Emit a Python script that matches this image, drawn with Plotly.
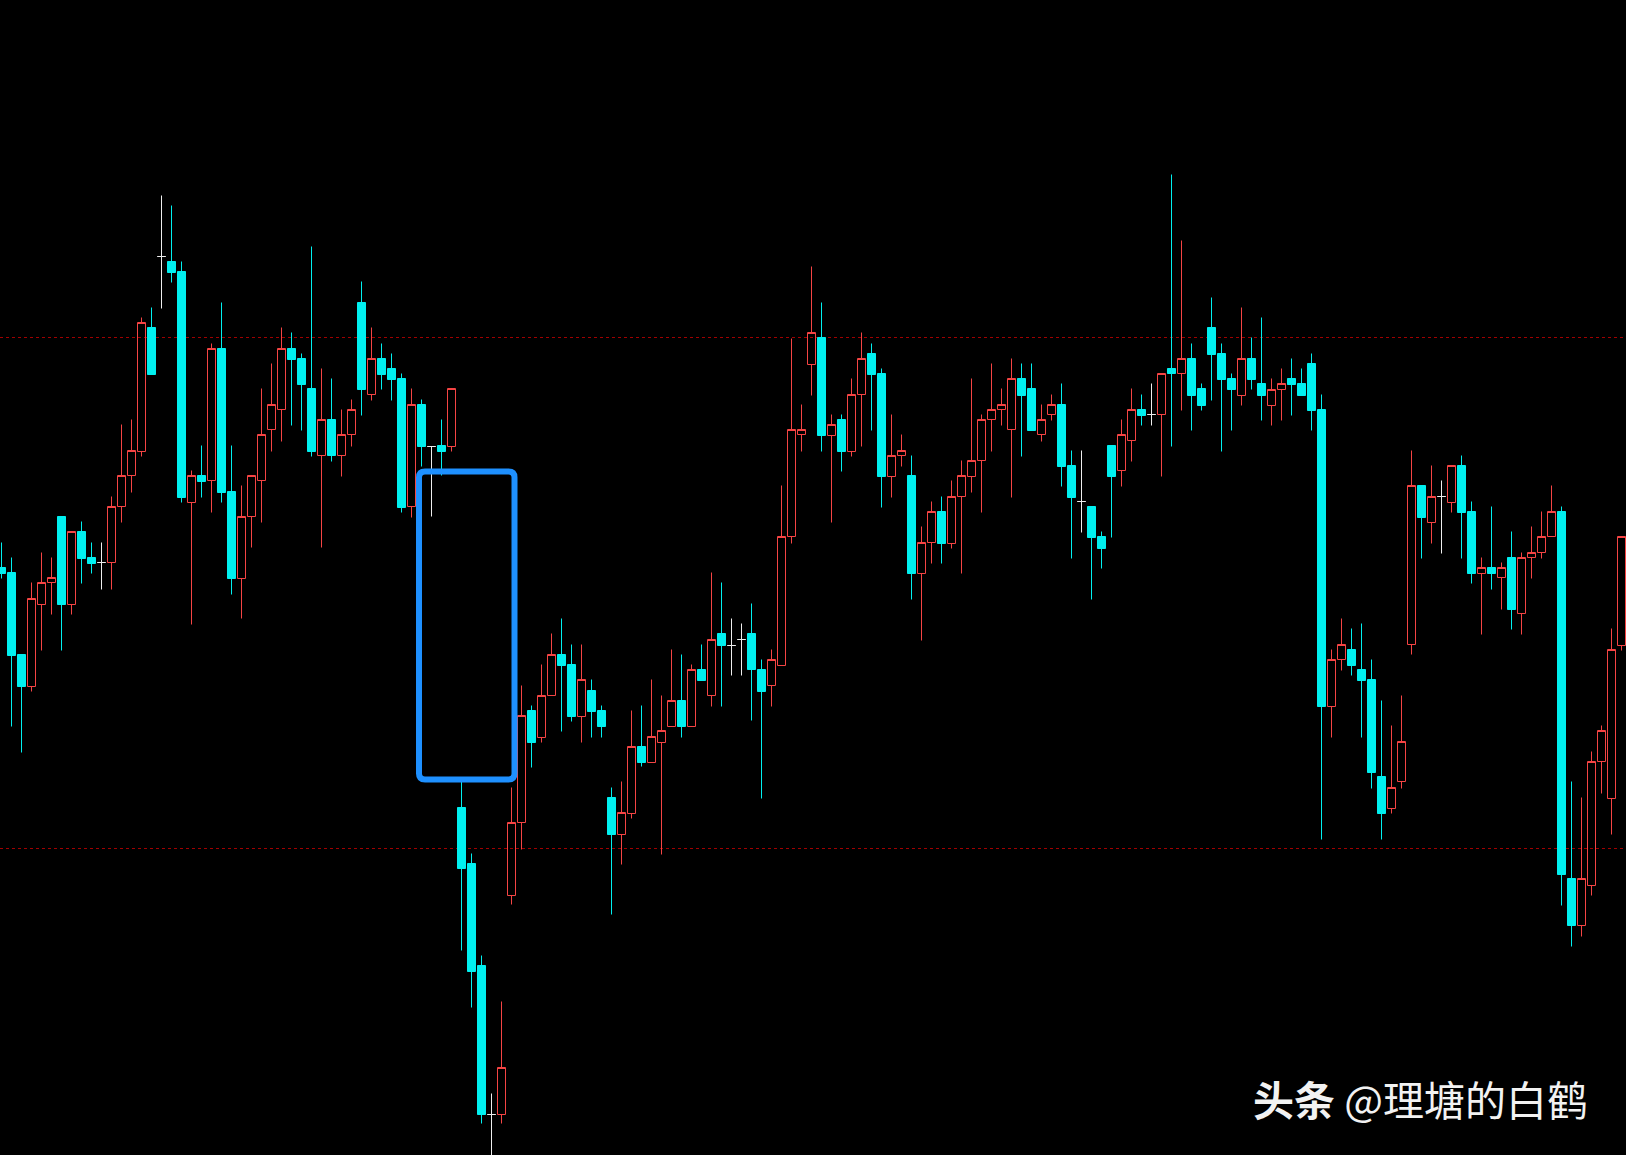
import plotly.graph_objects as go

# candle index (one bar per period)
idx = list(range(163))

open_ = [632,627,545,513,595,617,683,595,668,642,637,637,693,724,748,872,943,938,928,697,
         724,719,851,708,621,683,719,770,790,851,841,811,744,780,744,765,897,805,841,831,
         821,693,795,753,754,753,392,336,234,85,85,304,377,489,462,504,545,535,483,509,
         489,402,365,386,453,437,457,473,499,473,530,504,566,554,560,566,530,514,534,663,
         765,835,862,764,780,748,805,846,826,723,744,724,626,657,688,656,703,723,739,780,
         790,770,821,811,765,785,795,734,698,693,663,754,729,759,790,785,785,831,826,841,
         811,872,846,821,804,841,816,794,810,821,816,836,790,493,540,550,530,520,423,391,
         418,555,714,677,703,697,734,688,626,632,622,642,586,642,647,663,688,321,274,314,
         438,401,554]
high_ = [657,642,545,617,647,642,683,668,678,657,657,703,775,780,882,892,1004,994,938,729,
         754,856,897,754,714,724,811,836,872,867,846,953,831,821,790,800,918,872,856,846,
         826,811,800,753,780,811,419,346,244,106,198,412,514,494,535,566,581,555,555,520,
         494,412,418,489,494,520,504,550,545,535,555,627,617,581,576,596,540,550,714,861,
         795,933,897,785,785,821,867,856,831,785,765,744,673,698,703,719,739,821,785,836,
         811,841,836,836,795,805,816,749,749,693,668,754,780,811,805,816,826,1025,959,856,
         816,902,856,826,892,862,882,821,831,841,831,846,805,550,581,571,576,540,499,474,
         504,749,714,734,719,734,744,698,642,693,637,668,647,673,688,714,693,418,402,448,
         474,571,663]
low_ = [621,473,447,508,549,585,549,585,616,626,610,610,677,707,743,825,891,917,697,575,
        702,687,697,605,581,652,677,748,758,774,769,743,652,738,723,753,784,799,810,799,
        687,682,733,683,724,748,249,192,76,42,76,295,350,432,457,504,468,478,457,462,
        462,285,335,381,433,437,345,473,462,473,519,493,493,524,524,479,401,493,534,656,
        748,804,748,677,728,743,753,769,692,702,733,600,559,636,636,651,626,707,687,748,
        774,702,743,769,758,779,713,641,667,600,631,662,713,738,774,774,723,753,789,769,
        789,799,748,769,794,810,779,774,779,784,804,769,360,462,529,524,462,411,360,386,
        411,545,641,656,646,687,641,616,565,610,590,570,565,621,641,663,294,253,263,304,
        406,365,549]
close_ = [626,544,513,601,617,622,595,668,641,636,637,693,724,749,877,825,943,927,702,724,
          718,851,707,621,683,724,765,795,851,840,815,748,780,744,765,790,810,841,825,820,
          692,795,753,753,748,811,331,228,85,85,132,377,484,457,504,545,534,483,520,488,
          473,365,387,453,437,463,469,499,473,530,519,560,554,554,560,530,508,540,663,770,
          770,867,764,775,748,805,841,825,723,744,749,626,657,688,656,703,724,739,780,790,
          795,821,804,769,780,795,733,702,698,662,651,723,765,790,784,785,826,826,841,804,
          794,845,820,810,841,820,804,810,816,815,804,789,493,540,555,534,519,427,386,412,
          458,714,682,703,703,734,687,626,632,626,632,590,642,647,663,688,325,274,321,438,
          469,550,663]

# reference levels and the highlighted gap
level_lines = [862, 351]
gap_box = dict(x0=41.75, x1=51.3, y_top=728, y_bottom=420)

CYAN = "#00F0F0"
RED = "#F54444"
WHITE = "#EEEEEE"

def subset(cond):
    ii = [i for i in idx if cond(open_[i], close_[i])]
    return (ii, [open_[i] for i in ii], [high_[i] for i in ii],
            [low_[i] for i in ii], [close_[i] for i in ii])

fig = go.Figure()

for cond, fill, line in [
    (lambda o, c: c > o, "rgba(0,0,0,0)", RED),
    (lambda o, c: c < o, CYAN, CYAN),
    (lambda o, c: c == o, WHITE, WHITE),
]:
    x, o, h, l, c = subset(cond)
    fig.add_trace(go.Candlestick(
        x=x, open=o, high=h, low=l, close=c,
        increasing=dict(fillcolor=fill, line=dict(color=line, width=1)),
        decreasing=dict(fillcolor=fill, line=dict(color=line, width=1)),
        whiskerwidth=0, showlegend=False, hoverinfo="skip",
    ))

shapes = []
for lv in level_lines:
    shapes.append(dict(type="line", xref="paper", x0=0, x1=1, yref="y", y0=lv, y1=lv,
                       line=dict(color="#A00000", width=1, dash="3px,3px"), layer="below"))

x0, x1 = gap_box["x0"], gap_box["x1"]
yt, yb = gap_box["y_top"], gap_box["y_bottom"]
rx, ry = 0.6, 6
path = (f"M {x0+rx},{yt} L {x1-rx},{yt} Q {x1},{yt} {x1},{yt-ry} "
        f"L {x1},{yb+ry} Q {x1},{yb} {x1-rx},{yb} "
        f"L {x0+rx},{yb} Q {x0},{yb} {x0},{yb+ry} "
        f"L {x0},{yt-ry} Q {x0},{yt} {x0+rx},{yt} Z")
shapes.append(dict(type="path", path=path, xref="x", yref="y",
                   line=dict(color="#1E90FF", width=6), fillcolor="rgba(0,0,0,0)", layer="above"))

fig.update_layout(
    width=1626, height=1155,
    margin=dict(l=0, r=0, t=0, b=0),
    paper_bgcolor="black", plot_bgcolor="black",
    boxgap=0.2, boxgroupgap=0,
    xaxis=dict(visible=False, range=[-0.15, 162.45], rangeslider=dict(visible=False),
               fixedrange=True),
    yaxis=dict(visible=False, range=[44.5, 1199.5], fixedrange=True),
    shapes=shapes,
    annotations=[dict(
        text="<b>头条</b> @理塘的白鹤", xref="paper", yref="paper",
        x=0.978, y=0.049, xanchor="right", yanchor="middle", showarrow=False,
        font=dict(family="Noto Sans CJK SC", size=41, color="#F2F2F2"),
    )],
)

fig.write_html(
    "out.html",
    config={"displayModeBar": False},
    post_script="document.body.style.margin='0';document.body.style.background='black';",
)
